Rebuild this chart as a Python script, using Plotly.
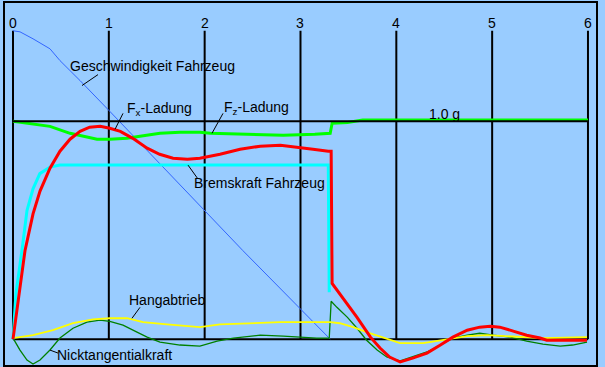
import plotly.graph_objects as go

# ---------------- data (time in s, values in g) ----------------
tick_labels = ["0", "1", "2", "3", "4", "5", "6"]
tick_values = [0, 1, 2, 3, 4, 5, 6]

speed_t = [0, 0.073, 0.209, 0.386, 0.49, 0.70, 1.01, 1.95, 2.40, 3.31]
speed_v = [1.416, 1.411, 1.379, 1.333, 1.279, 1.187, 1.046, 0.616, 0.406, 0.0]

brake_t = [0, 0.031, 0.094, 0.146, 0.209, 0.28, 0.386, 0.49, 3.29, 3.30]
brake_v = [0, 0.21, 0.41, 0.59, 0.69, 0.76, 0.79, 0.80, 0.80, 0.215]

fx_t = [0, 0.01, 0.04, 0.125, 0.209, 0.282, 0.386, 0.49, 0.595, 0.70, 0.80, 0.91, 1.01, 1.12,
        1.25, 1.40, 1.53, 1.67, 1.82, 1.95, 2.16, 2.37, 2.58, 2.79, 2.99, 3.13, 3.29, 3.32,
        3.33, 3.44, 3.59, 3.73, 3.83, 3.93, 4.04, 4.17, 4.32, 4.46, 4.59, 4.74, 4.87, 4.98,
        5.08, 5.22, 5.36, 5.50, 5.57, 5.99]
fx_v = [0, 0.03, 0.13, 0.406, 0.575, 0.680, 0.785, 0.863, 0.918, 0.954, 0.973, 0.977, 0.968, 0.954,
        0.922, 0.877, 0.849, 0.831, 0.826, 0.831, 0.849, 0.872, 0.886, 0.890, 0.881, 0.872, 0.863, 0.863,
        0.256, 0.192, 0.100, 0.009, -0.041, -0.082, -0.105, -0.087, -0.064, -0.027, 0.009, 0.041, 0.055, 0.059,
        0.055, 0.037, 0.018, 0.005, -0.005, -0.005]

fz_t = [0, 0.177, 0.386, 0.595, 0.772, 0.877, 1.01, 1.19, 1.325, 1.534, 1.743, 1.95, 2.06, 2.37,
        2.82, 3.15, 3.31, 3.33, 3.49, 3.65, 6.0]
fz_v = [1.0, 0.991, 0.977, 0.945, 0.927, 0.918, 0.918, 0.922, 0.932, 0.945, 0.950, 0.950, 0.945, 0.941,
        0.936, 0.941, 0.945, 0.991, 0.995, 1.006, 1.006]

hang_t = [0, 0.209, 0.417, 0.626, 0.835, 1.01, 1.19, 1.357, 1.607, 1.816, 1.95, 2.16, 2.47, 2.79,
          3.10, 3.31, 3.41, 3.55, 3.69, 3.86, 4.04, 4.28, 4.42, 4.59, 4.74, 4.95, 5.15, 5.36, 5.53, 5.99]
hang_v = [0.005, 0.018, 0.041, 0.073, 0.091, 0.096, 0.096, 0.078, 0.068, 0.059, 0.055, 0.068, 0.073, 0.078,
          0.078, 0.078, 0.073, 0.055, 0.032, 0.009, -0.018, -0.018, -0.009, 0.005, 0.014, 0.018, 0.014, 0.009, 0.005, 0.009]

nick_t = [0, 0.073, 0.146, 0.209, 0.282, 0.386, 0.49, 0.626, 0.772, 0.908, 1.01, 1.148, 1.294, 1.40,
          1.534, 1.743, 1.95, 2.13, 2.30, 2.58, 2.82, 2.99, 3.17, 3.30, 3.32, 3.38, 3.49, 3.59, 3.69,
          3.80, 3.90, 4.04, 4.17, 4.32, 4.46, 4.59, 4.74, 4.87, 5.01, 5.19, 5.36, 5.53, 5.71, 5.84, 5.99]
nick_v = [0.005, -0.050, -0.096, -0.114, -0.096, -0.050, 0.005, 0.050, 0.078, 0.087, 0.082, 0.064, 0.032, 0.009,
          -0.014, -0.027, -0.032, -0.009, 0.005, 0.018, 0.014, 0.009, 0.005, 0.005, 0.174, 0.146, 0.100, 0.050, -0.005,
          -0.050, -0.082, -0.100, -0.082, -0.059, -0.027, 0.005, 0.018, 0.027, 0.018, 0.009, -0.009, -0.023, -0.032, -0.027, -0.014]

ref_level = 1.0
ref_label = "1.0 g"

# ---------------- layout helpers ----------------
PX0, PXU = 13.0, 95.83   # pixel of t=0, pixels per second
PY0, PYU = 339.0, 219.0  # pixel of 0 g, pixels per g


def X(px):
    return (px - PX0) / PXU


def Y(py):
    return (PY0 - py) / PYU


BG = "#99CCFF"
FONT = "Liberation Sans, Arial, sans-serif"
FS = 14

fig = go.Figure()


def line(t, v, color, width):
    fig.add_trace(go.Scatter(x=t, y=v, mode="lines", line=dict(color=color, width=width),
                             hoverinfo="skip", showlegend=False))


line(speed_t, speed_v, "#3366FF", 1)
line(nick_t, nick_v, "#008000", 1.3)
line(hang_t, hang_v, "#FFFF00", 1.8)
line(brake_t, brake_v, "#00FFFF", 3)
line(fz_t, fz_v, "#00FF00", 3)
line(fx_t, fx_v, "#FF0000", 3)

shapes = []
top = speed_v[0]
for tv in tick_values:
    shapes.append(dict(type="line", x0=tv, x1=tv, y0=0, y1=top, line=dict(color="black", width=2), layer="below"))
shapes.append(dict(type="line", x0=tick_values[0], x1=tick_values[-1], y0=0, y1=0,
                   line=dict(color="black", width=2), layer="below"))
shapes.append(dict(type="line", x0=tick_values[0], x1=tick_values[-1], y0=ref_level, y1=ref_level,
                   line=dict(color="black", width=2), layer="above"))

# leader lines for labels
leaders = [((98, 73), (82, 84)), ((123, 112), (115, 128)), ((223, 112), (212, 132)),
           ((188, 164), (198, 178)), ((140, 307), (132, 318)), ((50, 350), (58, 353))]
for (a, b) in leaders:
    shapes.append(dict(type="line", x0=X(a[0]), y0=Y(a[1]), x1=X(b[0]), y1=Y(b[1]),
                       line=dict(color="black", width=1)))

annotations = []
for tv, tl in zip(tick_values, tick_labels):
    annotations.append(dict(x=tv, y=Y(21), text=tl, showarrow=False, xanchor="center", yanchor="middle"))

labels = [
    ("Geschwindigkeit Fahrzeug", 152, 64),
    ("F<sub>x</sub>-Ladung", 159, 108),
    ("F<sub>z</sub>-Ladung", 256, 107),
    (ref_label, 444, 113),
    ("Bremskraft Fahrzeug", 259, 182),
    ("Hangabtrieb", 167, 300),
    ("Nicktangentialkraft", 114, 355),
]
for txt, px, py in labels:
    annotations.append(dict(x=X(px), y=Y(py), text=txt, showarrow=False, xanchor="center", yanchor="middle"))

fig.update_layout(
    width=605, height=367,
    margin=dict(l=5, r=9, t=1, b=2),
    paper_bgcolor=BG, plot_bgcolor=BG,
    font=dict(family=FONT, size=FS, color="black"),
    shapes=shapes, annotations=annotations,
    showlegend=False,
    xaxis=dict(range=[X(5), X(596)], showgrid=False, zeroline=False, showticklabels=False, ticks="",
               showline=True, mirror=True, linecolor="black", linewidth=2, fixedrange=True),
    yaxis=dict(range=[Y(365), Y(1)], showgrid=False, zeroline=False, showticklabels=False, ticks="",
               showline=True, mirror=True, linecolor="black", linewidth=2, fixedrange=True),
)

fig.write_html("out.html", config={"displayModeBar": False},
               post_script="document.body.style.margin='0';document.body.style.overflow='hidden';document.body.style.background='" + BG + "';")
